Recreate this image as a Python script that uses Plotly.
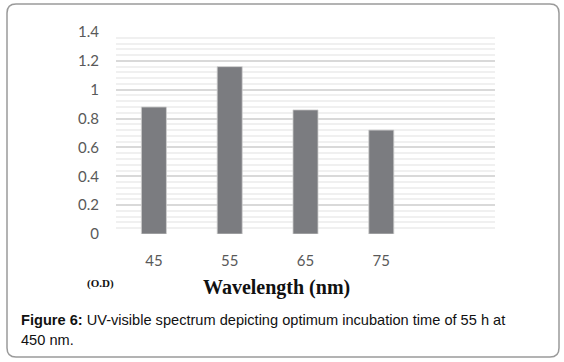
import plotly.graph_objects as go

# ---- data ----
categories = ["45", "55", "65", "75", ""]
od_values = [0.88, 1.16, 0.86, 0.72]
y_ticks = [0, 0.2, 0.4, 0.6, 0.8, 1.0, 1.2, 1.4]
y_tick_labels = ["0", "0.2", "0.4", "0.6", "0.8", "1", "1.2", "1.4"]
x_title = "Wavelength (nm)"
y_unit = "(O.D)"
caption_1 = "<b>Figure 6:</b> UV-visible spectrum depicting optimum incubation time of 55 h at"
caption_2 = "450 nm."

W, H = 564, 362
L, R, T, B = 116, 495, 32, 234  # plot area in pixels


def px(x):
    return (x - L) / (R - L)


def py(y):
    return (B - y) / (B - T)


xpos = list(range(len(od_values)))

fig = go.Figure()
fig.add_trace(go.Bar(
    x=xpos, y=od_values, width=0.33,
    marker=dict(color="#7b7c80", line=dict(color="#cfcfcf", width=0.8)),
    hoverinfo="skip",
))

fig.update_layout(
    width=W, height=H,
    margin=dict(l=L, r=W - R, t=T, b=H - B),
    paper_bgcolor="white", plot_bgcolor="white",
    showlegend=False,
    xaxis=dict(
        range=[-0.5, len(categories) - 0.5],
        tickvals=list(range(len(categories))), ticktext=categories,
        showgrid=False, zeroline=False, showline=False, ticks="",
        tickfont=dict(family="Lato", size=15, color="#595959"),
        ticklabelstandoff=16,
    ),
    yaxis=dict(
        range=[0, 1.4],
        tickvals=y_ticks, ticktext=y_tick_labels,
        showgrid=True, gridcolor="#d9d9d9", gridwidth=2,
        minor=dict(dtick=0.04, tick0=0, showgrid=True, gridcolor="#f0f0f0", gridwidth=2),
        zeroline=False, showline=False, ticks="",
        tickfont=dict(family="Lato", size=15, color="#595959"),
        ticklabelstandoff=16,
    ),
)

fig.add_annotation(text="<b>" + x_title + "</b>", xref="paper", yref="paper", x=px(276.5), y=py(287),
                   xanchor="center", yanchor="middle", showarrow=False,
                   font=dict(family="Liberation Serif", size=20, color="#111111"))
fig.add_annotation(text="<b>" + y_unit + "</b>", xref="paper", yref="paper", x=px(100), y=py(283),
                   xanchor="center", yanchor="middle", showarrow=False,
                   font=dict(family="Liberation Serif", size=11, color="#111111"))
fig.add_annotation(text=caption_1, xref="paper", yref="paper", x=px(19), y=py(320),
                   xanchor="left", yanchor="middle", showarrow=False,
                   font=dict(family="Liberation Sans", size=14.6, color="#111111"))
fig.add_annotation(text=caption_2, xref="paper", yref="paper", x=px(19), y=py(340),
                   xanchor="left", yanchor="middle", showarrow=False,
                   font=dict(family="Liberation Sans", size=14.6, color="#111111"))

# rounded frame
x0, x1, y0, y1, r = 7, 559, 4, 357, 9
path = (f"M {px(x0 + r)},{py(y0)} L {px(x1 - r)},{py(y0)} Q {px(x1)},{py(y0)} {px(x1)},{py(y0 + r)} "
        f"L {px(x1)},{py(y1 - r)} Q {px(x1)},{py(y1)} {px(x1 - r)},{py(y1)} "
        f"L {px(x0 + r)},{py(y1)} Q {px(x0)},{py(y1)} {px(x0)},{py(y1 - r)} "
        f"L {px(x0)},{py(y0 + r)} Q {px(x0)},{py(y0)} {px(x0 + r)},{py(y0)} Z")
fig.add_shape(type="path", path=path, xref="paper", yref="paper",
              line=dict(color="#9a9a9a", width=1.5), layer="above")

fig.write_html("out.html", config={"displayModeBar": False},
               post_script="document.body.style.margin='0';document.body.style.overflow='hidden';")
